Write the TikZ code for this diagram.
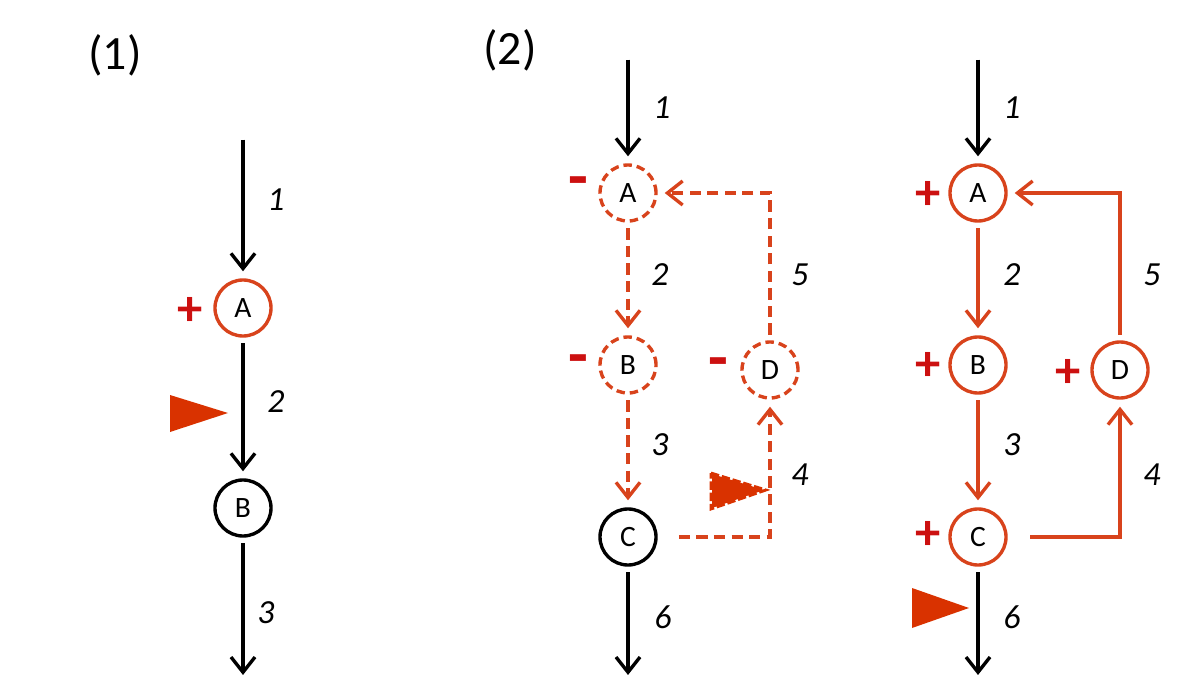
\documentclass[tikz,border=0pt]{standalone}
\usepackage{fontspec}
\setmainfont{Carlito}
\usetikzlibrary{arrows.meta}
\definecolor{loopred}{HTML}{D8431C}
\definecolor{signred}{HTML}{CC1010}
\definecolor{flagred}{HTML}{D93200}

\begin{document}
\begin{tikzpicture}[
  x=0.025cm, y=-0.025cm,
  unit/.style={circle, draw, line width=2.4pt, minimum size=1.4cm, inner sep=0pt,
    font=\fontsize{21}{21}\selectfont},
  hot/.style={unit, draw=loopred},
  cold/.style={hot, dash pattern=on 6pt off 3.5pt},
  arrow/.style={-{Straight Barb[length=3.8mm, width=6mm]}, line width=2.4pt,
    shorten >=5pt, shorten <=4pt},
  hotarrow/.style={arrow, loopred},
  coldarrow/.style={hotarrow, dash pattern=on 8pt off 4.5pt},
  num/.style={font=\fontsize{24}{24}\selectfont\itshape},
  sign/.style={font=\fontsize{36}{36}\selectfont\bfseries, text=signred},
  minus/.style={sign, font=\fontsize{46}{46}\selectfont\bfseries},
  flag/.style={fill=flagred},
  title/.style={font=\fontsize{34}{34}\selectfont}
]
  \useasboundingbox (0,0) rectangle (1203,695);

  % (1) single step
  \node[title] (t1) at (115,55) {(1)};
  \coordinate (in1) at (243,134);
  \node[hot] (A1) at (243,308) {A};
  \node[unit] (B1) at (243,508) {B};
  \coordinate (out1) at (243,682);
  \draw[arrow] (in1) -- (A1);
  \draw[arrow] (A1) -- (B1);
  \draw[arrow] (B1) -- (out1);
  \node[num] (n1a) at (276,200) {1};
  \node[num] (n1b) at (276,402) {2};
  \node[num] (n1c) at (266,613) {3};
  \node[sign] (s1a) at (190,311) {+};
  \fill[flag] (170,395) -- (228,413) -- (170,432) -- cycle;

  % (2) loop, left: dashed
  \node[title] (t2) at (510,50) {(2)};
  \coordinate (in2) at (628,54);
  \node[cold] (A2) at (628,193) {A};
  \node[cold] (B2) at (628,365) {B};
  \node[unit] (C2) at (628,537) {C};
  \node[cold] (D2) at (770,370) {D};
  \coordinate (out2) at (628,682);
  \draw[arrow] (in2) -- (A2);
  \draw[coldarrow] (A2) -- (B2);
  \draw[coldarrow] (B2) -- (C2);
  \draw[arrow] (C2) -- (out2);
  \draw[coldarrow, shorten <=15pt] (C2.east) -- (C2.east -| D2) -- (D2);
  \draw[coldarrow] (D2) |- (A2);
  \node[num] (n2a) at (662,108) {1};
  \node[num] (n2b) at (660,275) {2};
  \node[num] (n2c) at (660,445) {3};
  \node[num] (n2d) at (800,475) {4};
  \node[num] (n2e) at (800,275) {5};
  \node[num] (n2f) at (663,617) {6};
  \node[minus] (s2a) at (578,188) {-};
  \node[minus] (s2b) at (578,366) {-};
  \node[minus] (s2d) at (718,369) {-};
  \fill[flag] (712,474) -- (764,490) -- (712,508) -- cycle;
  \draw[flagred, line width=2pt, dash pattern=on 6pt off 2pt] (711,473) -- (766,490) -- (711,509) -- cycle;

  % (2) loop, right: solid
  \coordinate (in3) at (978,54);
  \node[hot] (A3) at (978,193) {A};
  \node[hot] (B3) at (978,365) {B};
  \node[hot] (C3) at (978,537) {C};
  \node[hot] (D3) at (1120,370) {D};
  \coordinate (out3) at (978,682);
  \draw[arrow] (in3) -- (A3);
  \draw[hotarrow] (A3) -- (B3);
  \draw[hotarrow] (B3) -- (C3);
  \draw[arrow] (C3) -- (out3);
  \draw[hotarrow, shorten <=16pt] (C3.east) -- (C3.east -| D3) -- (D3);
  \draw[hotarrow] (D3) |- (A3);
  \node[num] (n3a) at (1012,108) {1};
  \node[num] (n3b) at (1012,275) {2};
  \node[num] (n3c) at (1012,445) {3};
  \node[num] (n3d) at (1152,475) {4};
  \node[num] (n3e) at (1152,275) {5};
  \node[num] (n3f) at (1012,617) {6};
  \node[sign] (s3a) at (928,195) {+};
  \node[sign] (s3b) at (928,366) {+};
  \node[sign] (s3c) at (928,535) {+};
  \node[sign] (s3d) at (1068,373) {+};
  \fill[flag] (912,588) -- (969,608) -- (912,628) -- cycle;
\end{tikzpicture}
\end{document}
